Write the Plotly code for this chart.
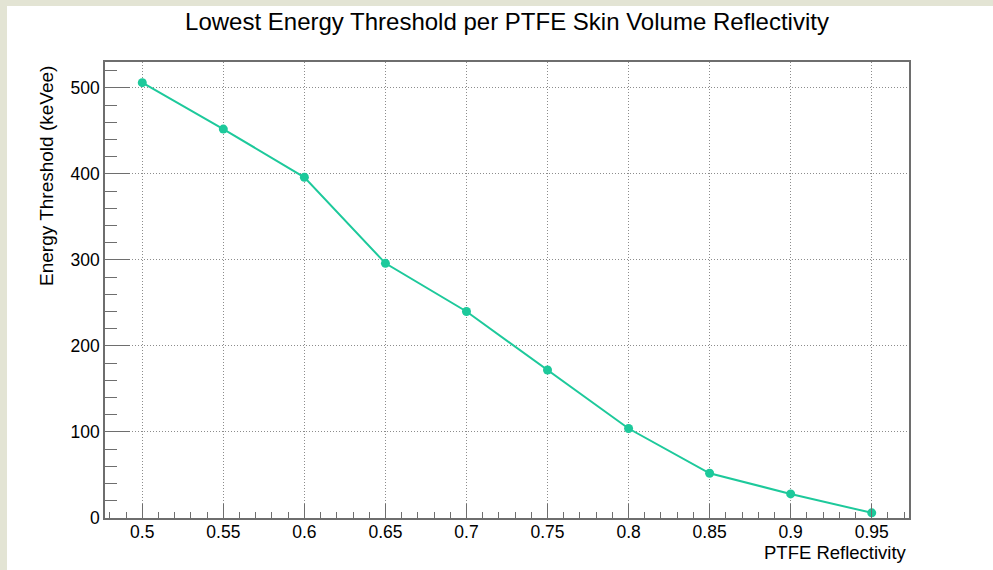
import plotly.graph_objects as go

# PTFE reflectivity scan and the lowest reachable energy threshold
reflectivity = [0.5, 0.55, 0.6, 0.65, 0.7, 0.75, 0.8, 0.85, 0.9, 0.95]
threshold_kevee = [506, 452, 396, 296, 240, 172, 104, 52, 28, 6]

title_text = "Lowest Energy Threshold per PTFE Skin Volume Reflectivity"
x_title = "PTFE Reflectivity"
y_title = "Energy Threshold (keVee)"

line_color = "#1dc99b"
frame_color = "#6e6e6e"
grid_color = "#8c8c8c"
font_family = "Liberation Sans, Arial, Helvetica, sans-serif"

fig = go.Figure()
fig.add_trace(go.Scatter(
    x=reflectivity,
    y=threshold_kevee,
    mode="lines+markers",
    line=dict(color=line_color, width=2),
    marker=dict(color=line_color, size=9),
    showlegend=False,
))

axis_common = dict(
    showline=True,
    mirror=True,
    linecolor=frame_color,
    linewidth=1.5,
    ticks="inside",
    tickcolor=frame_color,
    tickwidth=1.2,
    showgrid=True,
    gridcolor=grid_color,
    griddash="1px,2px",
    gridwidth=1,
    zeroline=False,
    tickfont=dict(family=font_family, size=17.5, color="black"),
)

fig.update_xaxes(
    range=[0.477, 0.973],
    tick0=0.5,
    dtick=0.05,
    ticklen=14,
    ticklabelstandoff=-3,
    minor=dict(dtick=0.01, ticklen=6, ticks="inside", tickcolor=frame_color, showgrid=False),
    **axis_common,
)
fig.update_yaxes(
    range=[0, 530],
    tick0=0,
    dtick=100,
    ticklen=25,
    minor=dict(dtick=20, ticklen=12, ticks="inside", tickcolor=frame_color, showgrid=False),
    **axis_common,
)

# thin textured-looking border strips along the top and left edges
border_color = "#e3e4d4"
fig.add_shape(type="rect", xref="paper", yref="paper", xsizemode="pixel", xanchor=0,
              x0=-105, x1=-98, y0=-0.2, y1=1.3, fillcolor=border_color, line_width=0, layer="below")
fig.add_shape(type="rect", xref="paper", yref="paper", ysizemode="pixel", yanchor=1,
              y0=62, y1=56, x0=-0.2, x1=1.2, fillcolor=border_color, line_width=0, layer="below")

fig.add_annotation(
    text=x_title, xref="paper", yref="paper", x=1.0, y=0, xanchor="right", yanchor="middle",
    yshift=-34, showarrow=False, font=dict(family=font_family, size=18.5, color="black"),
)
fig.add_annotation(
    text=y_title, xref="paper", yref="paper", x=-0.0734, y=1.0, xanchor="center", yanchor="top",
    yshift=-2, textangle=-90, showarrow=False, font=dict(family=font_family, size=19, color="black"),
)

fig.update_layout(
    width=993,
    height=570,
    margin=dict(l=105, r=84, t=62, b=52),
    paper_bgcolor="white",
    plot_bgcolor="white",
    title=dict(text=title_text, x=0.5, xref="paper", y=1 - 22 / 570, yanchor="middle",
               font=dict(family=font_family, size=24, color="black")),
)

fig.write_html("out.html")
